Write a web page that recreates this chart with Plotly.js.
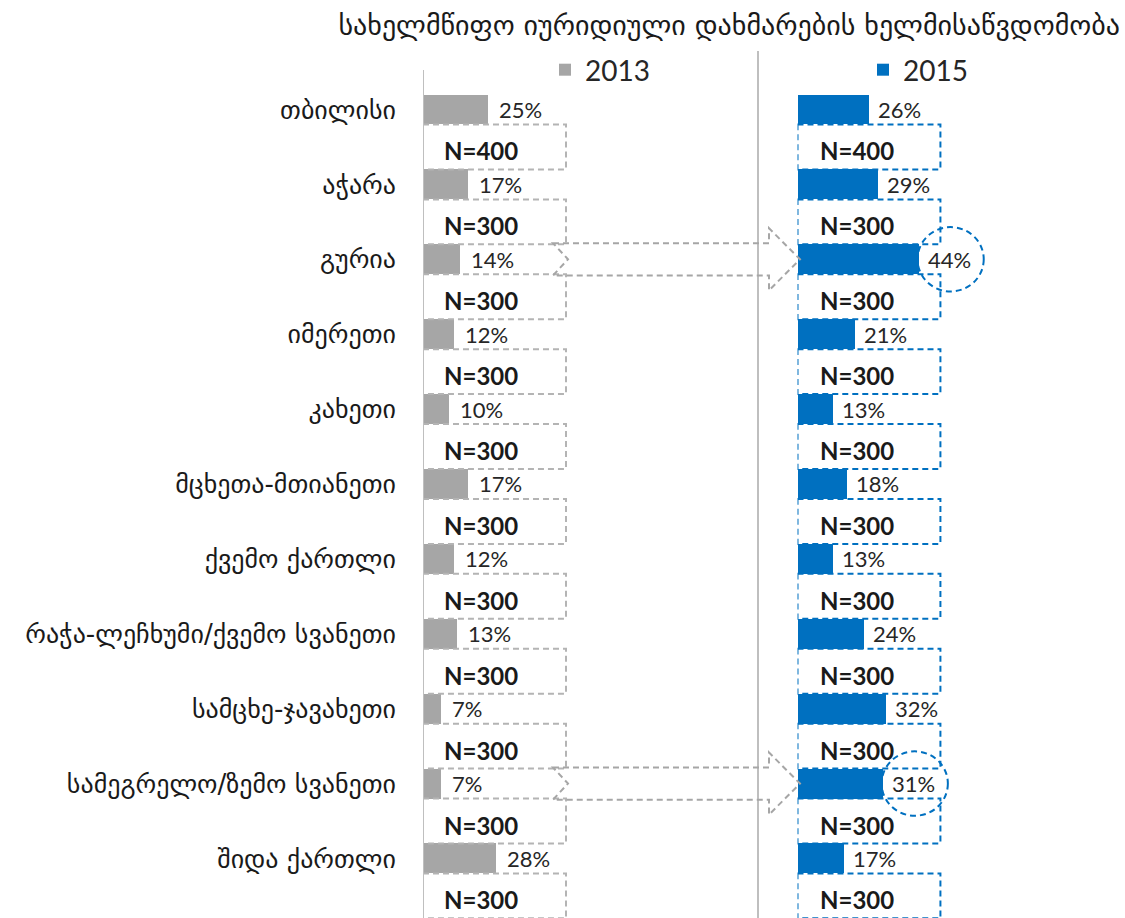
<!DOCTYPE html>
<html>
<head>
<meta charset="utf-8">
<script src="https://cdn.plot.ly/plotly-3.0.1.min.js"></script>
<style>html,body{margin:0;padding:0;background:#fff;}#chart{width:1125px;height:918px;}</style>
</head>
<body>
<div id="chart"></div>
<script>
const titleText = 'სახელმწიფო იურიდიული დახმარების ხელმისაწვდომობა';
const categories = ['თბილისი','აჭარა','გურია','იმერეთი','კახეთი','მცხეთა-მთიანეთი','ქვემო ქართლი','რაჭა-ლეჩხუმი/ქვემო სვანეთი','სამცხე-ჯავახეთი','სამეგრელო/ზემო სვანეთი','შიდა ქართლი'];
const seriesNames = ['2013','2015'];
const values2013 = [25,17,14,12,10,17,12,13,7,7,28];
const values2015 = [26,29,44,21,13,18,13,24,32,31,17];
const sampleN2013 = [400,300,300,300,300,300,300,300,300,300,300];
const sampleN2015 = [400,300,300,300,300,300,300,300,300,300,300];
const highlighted = ['გურია','სამეგრელო/ზემო სვანეთი'];

const GRAY = '#a6a6a6', BLUE = '#0070c0', BOXGRAY = '#b4b4b4';
const NUM_FONT = 'Lato, "Open Sans", sans-serif';
const GEO_FONT = '"DejaVu Sans", sans-serif';

const barPos = categories.map((c,i)=>2*i);
const nPos = categories.map((c,i)=>2*i+1);

const traces = [
  {type:'bar', orientation:'h', name:seriesNames[0], y:barPos, x:values2013, width:0.8,
   marker:{color:GRAY}, xaxis:'x', yaxis:'y', legend:'legend', hoverinfo:'skip'},
  {type:'bar', orientation:'h', name:seriesNames[1], y:barPos, x:values2015, width:0.8,
   marker:{color:BLUE}, xaxis:'x2', yaxis:'y2', legend:'legend2', hoverinfo:'skip'}
];

const shapes = [];
const dashBox = '6px,4px';
categories.forEach((c,i)=>{
  shapes.push({type:'rect', xref:'x', yref:'y', x0:0, x1:54.6, y0:nPos[i]-0.6, y1:nPos[i]+0.6,
    line:{color:BOXGRAY, width:2, dash:dashBox}, layer:'above'});
  shapes.push({type:'rect', xref:'x2', yref:'y2', x0:0, x1:51.8, y0:nPos[i]-0.6, y1:nPos[i]+0.6,
    line:{color:BLUE, width:2, dash:dashBox}, layer:'above'});
});
// divider
shapes.push({type:'line', xref:'paper', yref:'paper', x0:758/1125, x1:758/1125, y0:0, y1:1.0224,
  line:{color:'#bfbfbf', width:2}});
// left axis line
shapes.push({type:'line', xref:'x', yref:'paper', x0:0, x1:0, y0:0, y1:1,
  line:{color:'#bfbfbf', width:2}});
// highlight arrows and circles
highlighted.forEach(h=>{
  const i = categories.indexOf(h);
  const y = barPos[i];
  const xt = 553/1125, xn = 568/1125, xb = 769/1125, xp = 800/1125;
  const b = 0.43, hd = 0.83;
  shapes.push({type:'path', xref:'paper', yref:'y',
    path:`M${xt},${y-b} L${xb},${y-b} L${xb},${y-hd} L${xp},${y} L${xb},${y+hd} L${xb},${y+b} L${xt},${y+b} L${xn},${y} Z`,
    line:{color:GRAY, width:2, dash:dashBox}, layer:'above'});
  const v = values2015[i];
  shapes.push({type:'circle', xref:'x2', yref:'y2', x0:v-0.5, x1:v+23.5, y0:y-0.86, y1:y+0.86,
    line:{color:BLUE, width:2, dash:dashBox}, layer:'above'});
});

const annotations = [];
categories.forEach((c,i)=>{
  annotations.push({xref:'x', yref:'y', x:values2013[i], y:barPos[i], text:values2013[i]+'%',
    showarrow:false, xanchor:'left', xshift:9, font:{family:NUM_FONT, size:22, color:'#262626'}});
  annotations.push({xref:'x2', yref:'y2', x:values2015[i], y:barPos[i], text:values2015[i]+'%',
    showarrow:false, xanchor:'left', xshift:7, font:{family:NUM_FONT, size:22, color:'#262626'}});
  annotations.push({xref:'x', yref:'y', x:22.1, y:nPos[i], text:'N='+sampleN2013[i],
    showarrow:false, xanchor:'center', yanchor:'middle', yshift:-4,
    font:{family:NUM_FONT, size:24, color:'#1a1a1a', weight:'bold'}});
  annotations.push({xref:'x2', yref:'y2', x:21.4, y:nPos[i], text:'N='+sampleN2015[i],
    showarrow:false, xanchor:'center', yanchor:'middle', yshift:-4,
    font:{family:NUM_FONT, size:24, color:'#1a1a1a', weight:'bold'}});
});

const yRange = [21.59, -1.055];
const layout = {
  width:1125, height:918,
  margin:{l:0, r:0, t:70, b:0},
  paper_bgcolor:'#fff', plot_bgcolor:'rgba(0,0,0,0)',
  title:{text:titleText, x:1120/1125, xanchor:'right', xref:'container', y:1-25/918, yanchor:'middle', yref:'container',
    font:{family:GEO_FONT, size:28, color:'#1a1a1a'}},
  xaxis:{domain:[423/1125, 758/1125], range:[0,127.9], showgrid:false, zeroline:false, showticklabels:false, showline:false, fixedrange:true},
  xaxis2:{domain:[797.5/1125, 1], range:[0,118.7], showgrid:false, zeroline:false, showticklabels:false, showline:false, fixedrange:true},
  yaxis:{anchor:'x', range:yRange, tickvals:barPos, ticktext:categories, ticks:'', showgrid:false, zeroline:false,
    showline:false, ticklabelstandoff:26, automargin:false, tickfont:{family:GEO_FONT, size:26, color:'#1a1a1a'}},
  yaxis2:{anchor:'x2', range:yRange, showticklabels:false, showgrid:false, zeroline:false, showline:false},
  legend:{x:545/1125, y:1.0, yanchor:'middle', xanchor:'left', orientation:'h', bgcolor:'rgba(0,0,0,0)',
    font:{family:NUM_FONT, size:28, color:'#262626'}},
  legend2:{x:863/1125, y:1.0, yanchor:'middle', xanchor:'left', orientation:'h', bgcolor:'rgba(0,0,0,0)',
    font:{family:NUM_FONT, size:28, color:'#262626'}},
  shapes:shapes, annotations:annotations,
  bargap:0, showlegend:true
};
Plotly.newPlot('chart', traces, layout, {staticPlot:true, displayModeBar:false});
</script>
</body>
</html>
